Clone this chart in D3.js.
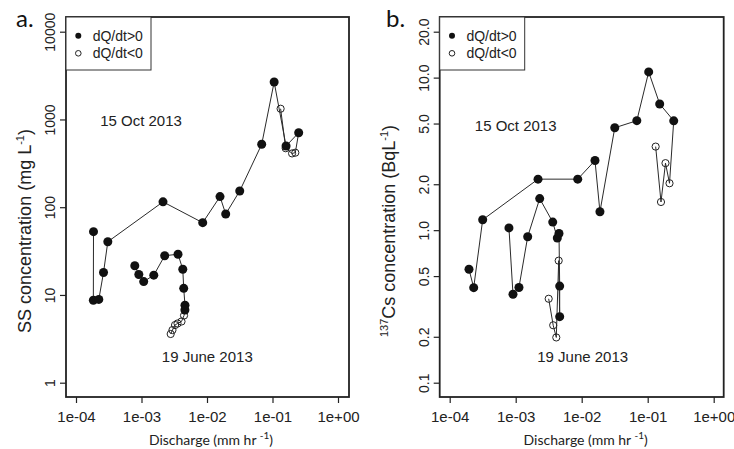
<!DOCTYPE html>
<html>
<head>
<meta charset="utf-8">
<script src="https://cdn.jsdelivr.net/npm/d3@7"></script>
<style>
  html, body { margin: 0; padding: 0; background: #fff; }
  svg { display: block; }
  .tick text { font-family: "Liberation Sans", Arial, sans-serif; fill: #222; }
</style>
</head>
<body>
<svg id="chart" width="734" height="449"></svg>
<script>
// Discharge (mm/hr) and concentrations for two storm events, in sampling order.
// pt: "r" = rising limb (dQ/dt>0, filled), "f" = falling limb (dQ/dt<0, open).

// Panel a: suspended sediment (mg/L)
const ssOctQ  = [1.85e-4, 1.84e-4, 2.23e-4, 2.63e-4, 3.06e-4, 2.13e-3, 8.6e-3, 1.58e-2, 1.93e-2, 3.16e-2, 6.84e-2, 0.106, 0.161, 0.251, 0.223, 0.199, 0.159, 0.133];
const ssOctC  = [52.6, 8.7, 8.9, 18.0, 40.4, 115, 66.6, 132, 83.6, 153, 521, 2672, 498, 706, 418, 410, 470, 1325];
const ssOctPt = ["r","r","r","r","r","r","r","r","r","r","r","r","r","r","f","f","f","f"];

const ssJunQ  = [7.9e-4, 9.1e-4, 1.08e-3, 1.54e-3, 2.26e-3, 3.61e-3, 4.27e-3, 4.41e-3, 4.61e-3, 4.6e-3, 4.46e-3, 4.08e-3, 3.55e-3, 3.25e-3, 2.97e-3, 2.79e-3];
const ssJunC  = [21.5, 17.1, 14.2, 16.8, 28.0, 29.1, 19.6, 11.9, 7.64, 6.74, 5.83, 4.98, 4.73, 4.54, 3.98, 3.59];
const ssJunPt = ["r","r","r","r","r","r","r","r","r","r","f","f","f","f","f","f"];

// Panel b: 137Cs (Bq/L)
const csOctQ  = [1.96e-4, 2.31e-4, 3.16e-4, 2.18e-3, 8.7e-3, 1.59e-2, 1.89e-2, 3.17e-2, 6.84e-2, 0.1035, 0.152, 0.248, 0.214, 0.186, 0.159, 0.132];
const csOctC  = [0.554, 0.42, 1.17, 2.16, 2.16, 2.86, 1.32, 4.69, 5.22, 10.9, 6.72, 5.21, 2.03, 2.75, 1.53, 3.53];
const csOctPt = ["r","r","r","r","r","r","r","r","r","r","r","r","f","f","f","f"];

const csJunQ  = [7.9e-4, 9.1e-4, 1.12e-3, 1.52e-3, 2.31e-3, 3.64e-3, 4.27e-3, 4.53e-3, 4.64e-3, 4.64e-3, 4.48e-3, 4.12e-3, 3.7e-3, 3.16e-3];
const csJunC  = [1.035, 0.38, 0.421, 0.906, 1.61, 1.13, 0.889, 0.951, 0.43, 0.271, 0.631, 0.198, 0.238, 0.355];
const csJunPt = ["r","r","r","r","r","r","r","r","r","r","f","f","f","f"];

// Axis ticks
const xTicks   = [1e-4, 1e-3, 1e-2, 1e-1, 1];
const xLabels  = ["1e-04", "1e-03", "1e-02", "1e-01", "1e+00"];
const ssTicks  = [1, 10, 100, 1000, 10000];
const ssLabels = ["1", "10", "100", "1000", "10000"];
const csTicks  = [0.1, 0.2, 0.5, 1, 2, 5, 10, 20];
const csLabels = ["0.1", "0.2", "0.5", "1.0", "2.0", "5.0", "10.0", "20.0"];

const legendLabels = ["dQ/dt>0", "dQ/dt<0"];
const eventLabels  = ["15 Oct 2013", "19 June 2013"];

const zip = (q, c, p) => q.map((d, i) => ({ q: d, c: c[i], pt: p[i] }));

const svg = d3.select("#chart");
const INK = "#222";
const SANS = "'Liberation Sans', Arial, sans-serif";
const TITLE = "Lato, 'Open Sans', sans-serif";

const panels = [
  {
    tag: "a.", box: { x0: 66, x1: 349, y0: 17, y1: 397 },
    x: d3.scaleLog().domain([1e-4, 1]).range([76, 338]),
    y: d3.scaleLog().domain([1, 10000]).range([382.7, 31.7]),
    yTicks: ssTicks, yLabels: ssLabels,
    events: [zip(ssOctQ, ssOctC, ssOctPt), zip(ssJunQ, ssJunC, ssJunPt)],
    yTitle: "ss", tagX: 16, yTitleX: 31,
    oct: [141, 126], jun: [207.3, 362]
  },
  {
    tag: "b.", box: { x0: 439.7, x1: 723.7, y0: 17, y1: 397 },
    x: d3.scaleLog().domain([1e-4, 1]).range([449.7, 713.7]),
    y: d3.scaleLog().domain([0.1, 20]).range([382.7, 31.7]),
    yTicks: csTicks, yLabels: csLabels,
    events: [zip(csOctQ, csOctC, csOctPt), zip(csJunQ, csJunC, csJunPt)],
    yTitle: "cs", tagX: 386, yTitleX: 395,
    oct: [515.7, 131], jun: [582.7, 362]
  }
];

panels.forEach(p => {
  const g = svg.append("g");
  const b = p.box;

  // Bottom axis
  const xAxis = d3.axisBottom(p.x).tickValues(xTicks)
    .tickFormat((d, i) => xLabels[i]).tickSize(6).tickPadding(8);
  const gx = g.append("g").attr("transform", `translate(0,${b.y1})`).call(xAxis);
  gx.select(".domain").remove();
  gx.selectAll(".tick line").attr("stroke", INK).attr("stroke-width", 1.2);
  gx.selectAll(".tick text").attr("font-size", 15).attr("dy", "0.71em");

  // Left axis, labels parallel to the axis
  const yAxis = d3.axisLeft(p.y).tickValues(p.yTicks)
    .tickFormat((d, i) => p.yLabels[i]).tickSize(6);
  const gy = g.append("g").attr("transform", `translate(${b.x0},0)`).call(yAxis);
  gy.select(".domain").remove();
  gy.selectAll(".tick line").attr("stroke", INK).attr("stroke-width", 1.2);
  gy.selectAll(".tick text")
    .attr("font-size", 14).attr("x", null).attr("dy", null)
    .attr("text-anchor", "middle")
    .attr("transform", "translate(-11,0) rotate(-90)");

  // Connecting lines, one per event in sampling order
  const line = d3.line().x(d => p.x(d.q)).y(d => p.y(d.c));
  p.events.forEach(ev => {
    g.append("path").datum(ev).attr("d", line)
      .attr("fill", "none").attr("stroke", "#2a2a2a").attr("stroke-width", 1);
  });

  // Markers: open circles first, filled circles on top
  p.events.forEach(ev => {
    g.selectAll(null).data(ev.filter(d => d.pt === "f")).join("circle")
      .attr("cx", d => p.x(d.q)).attr("cy", d => p.y(d.c)).attr("r", 3.6)
      .attr("fill", "none").attr("stroke", "#222").attr("stroke-width", 1);
  });
  p.events.forEach(ev => {
    g.selectAll(null).data(ev.filter(d => d.pt === "r")).join("circle")
      .attr("cx", d => p.x(d.q)).attr("cy", d => p.y(d.c)).attr("r", 4.5)
      .attr("fill", "#111");
  });

  // Plot frame
  g.append("rect").attr("x", b.x0).attr("y", b.y0)
    .attr("width", b.x1 - b.x0).attr("height", b.y1 - b.y0)
    .attr("fill", "none").attr("stroke", INK).attr("stroke-width", 1.8);

  // Legend in the top-left corner
  const lg = g.append("g");
  lg.append("rect").attr("x", b.x0).attr("y", b.y0).attr("width", 85).attr("height", 53)
    .attr("fill", "#fff").attr("stroke", "#333").attr("stroke-width", 1);
  lg.append("circle").attr("cx", b.x0 + 12.3).attr("cy", b.y0 + 18.7).attr("r", 3).attr("fill", "#111");
  lg.append("circle").attr("cx", b.x0 + 12.3).attr("cy", b.y0 + 36.3).attr("r", 2.8)
    .attr("fill", "none").attr("stroke", "#222").attr("stroke-width", 1);
  legendLabels.forEach((t, i) => {
    lg.append("text").attr("x", b.x0 + 26.7).attr("y", b.y0 + 18.7 + i * 17.6)
      .attr("dy", "0.35em").attr("font-family", SANS).attr("font-size", 14)
      .attr("fill", INK).text(t);
  });

  // Event annotations
  g.append("text").attr("x", p.oct[0]).attr("y", p.oct[1]).attr("text-anchor", "middle")
    .attr("font-family", SANS).attr("font-size", 15).attr("fill", INK).text(eventLabels[0]);
  g.append("text").attr("x", p.jun[0]).attr("y", p.jun[1]).attr("text-anchor", "middle")
    .attr("font-family", SANS).attr("font-size", 15).attr("fill", INK).text(eventLabels[1]);

  // X title
  const xt = g.append("text").attr("x", (p.x(1e-4) + p.x(1)) / 2 + 4).attr("y", 445)
    .attr("text-anchor", "middle").attr("font-family", TITLE).attr("font-size", 14)
    .attr("fill", INK);
  xt.append("tspan").text("Discharge (mm hr ");
  xt.append("tspan").attr("font-size", 10).attr("dy", -6).text("-1");
  xt.append("tspan").attr("dy", 6).text(")");

  // Y title
  const yt = g.append("text")
    .attr("transform", `translate(${p.yTitleX},231) rotate(-90)`)
    .attr("text-anchor", "middle").attr("font-family", SANS).attr("font-size", 18)
    .attr("fill", INK);
  if (p.yTitle === "ss") {
    yt.append("tspan").text("SS concentration (mg L");
    yt.append("tspan").attr("font-size", 11).attr("dy", -7).text("-1");
    yt.append("tspan").attr("dy", 7).text(")");
  } else {
    yt.append("tspan").attr("font-size", 11).attr("dy", -7).text("137");
    yt.append("tspan").attr("dy", 7).text("Cs concentration (BqL");
    yt.append("tspan").attr("font-size", 11).attr("dy", -7).text("-1");
    yt.append("tspan").attr("dy", 7).text(")");
  }

  // Panel tag
  g.append("text").attr("x", p.tagX).attr("y", 27)
    .attr("font-family", TITLE).attr("font-size", 24).attr("fill", "#111").text(p.tag);
});
</script>
</body>
</html>
